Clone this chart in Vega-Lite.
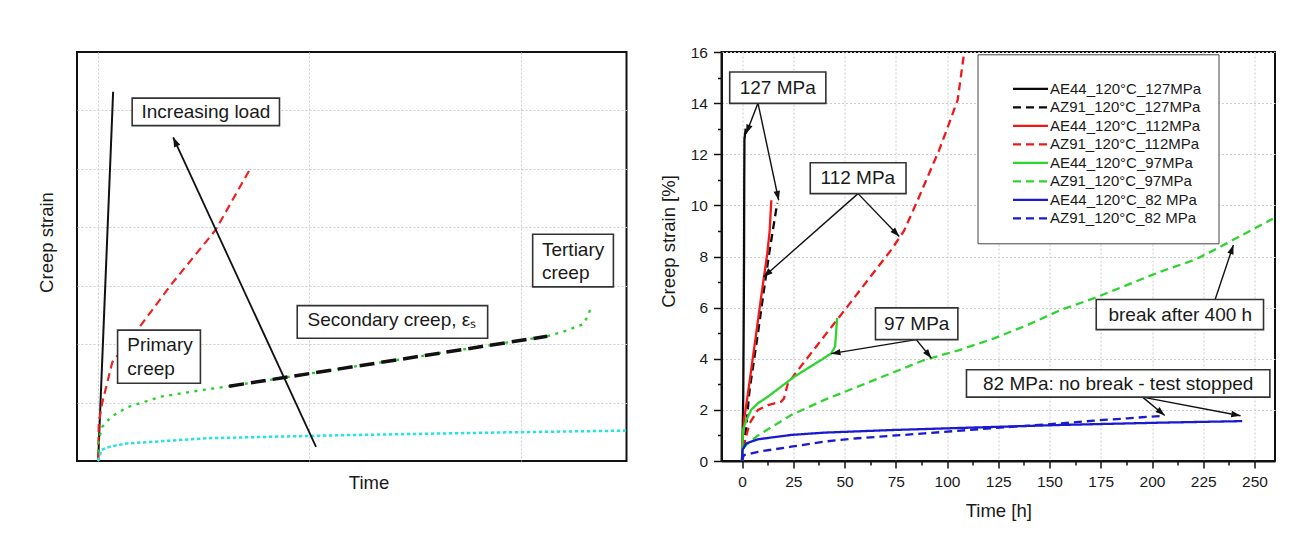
{
  "$schema": "https://vega.github.io/schema/vega-lite/v6.json",
  "background": "white",
  "padding": {"left": 36, "top": 44, "right": 5, "bottom": 5},
  "bounds": "flush",
  "spacing": 94.5,
  "resolve": {"scale": {"color": "independent", "strokeDash": "independent", "strokeWidth": "independent"}, "legend": {"color": "independent", "strokeDash": "independent", "strokeWidth": "independent"}},
  "config": {
    "font": "Liberation Sans",
    "view": {"stroke": "#111111", "strokeWidth": 2},
    "axis": {
      "labelFont": "Liberation Sans",
      "titleFont": "Liberation Sans",
      "titleFontWeight": "normal",
      "titleFontSize": 18.5,
      "titleColor": "#1a1a1a",
      "labelColor": "#1a1a1a",
      "labelFontSize": 15.5,
      "gridColor": "#cccccc",
      "gridDash": [2, 2],
      "gridWidth": 1,
      "tickColor": "#111111",
      "domainColor": "#111111"
    },
    "text": {"font": "Liberation Sans"}
  },
  "datasets": {
    "schematic": [
      {"curve": "highest load", "x": 0, "y": 0},
      {"curve": "highest load", "x": 0.71, "y": 6.32},
      {"curve": "high load", "x": 0, "y": 0.05},
      {"curve": "high load", "x": 0.03, "y": 0.65},
      {"curve": "high load", "x": 0.19, "y": 0.99},
      {"curve": "high load", "x": 0.67, "y": 1.69},
      {"curve": "high load", "x": 1.85, "y": 2.24},
      {"curve": "high load", "x": 3.5, "y": 3.04},
      {"curve": "high load", "x": 5.55, "y": 3.95},
      {"curve": "high load", "x": 7.21, "y": 5.01},
      {"curve": "medium load", "x": 0, "y": 0},
      {"curve": "medium load", "x": 0.02, "y": 0.35},
      {"curve": "medium load", "x": 0.19, "y": 0.58},
      {"curve": "medium load", "x": 0.59, "y": 0.75},
      {"curve": "medium load", "x": 1.38, "y": 0.92},
      {"curve": "medium load", "x": 2.95, "y": 1.1},
      {"curve": "medium load", "x": 4.84, "y": 1.21},
      {"curve": "medium load", "x": 6.2, "y": 1.28},
      {"curve": "medium load", "x": 21.25, "y": 2.135},
      {"curve": "medium load", "x": 22.05, "y": 2.22},
      {"curve": "medium load", "x": 22.95, "y": 2.34},
      {"curve": "medium load", "x": 23.2, "y": 2.5},
      {"curve": "medium load", "x": 23.34, "y": 2.67},
      {"curve": "low load", "x": 0, "y": 0},
      {"curve": "low load", "x": 0.16, "y": 0.19},
      {"curve": "low load", "x": 0.6, "y": 0.25},
      {"curve": "low load", "x": 1.35, "y": 0.3},
      {"curve": "low load", "x": 5.18, "y": 0.39},
      {"curve": "low load", "x": 11.3, "y": 0.44},
      {"curve": "low load", "x": 19.3, "y": 0.49},
      {"curve": "low load", "x": 25, "y": 0.52}
    ],
    "secondary": [
      {"x": 6.2, "y": 1.28},
      {"x": 21.25, "y": 2.135}
    ],
    "leftArrows": [
      {"x1": 10.31, "y1": 0.24, "x2": 3.55, "y2": 5.54}
    ],
    "leftBoxes": [
      {"x1": 1.61, "x2": 8.58, "y1": 5.74, "y2": 6.21},
      {"x1": 0.92, "x2": 4.84, "y1": 1.33, "y2": 2.24},
      {"x1": 9.42, "x2": 18.43, "y1": 2.1, "y2": 2.66},
      {"x1": 20.56, "x2": 24.38, "y1": 2.98, "y2": 3.88}
    ],
    "leftTexts": [
      {"label": "Increasing load", "x": 2.05, "y": 5.98},
      {"label": "Primary", "x": 1.38, "y": 1.98},
      {"label": "creep", "x": 1.38, "y": 1.57},
      {"label": "Secondary creep, εₛ", "x": 9.91, "y": 2.41},
      {"label": "Tertiary", "x": 21.0, "y": 3.61},
      {"label": "creep", "x": 21.0, "y": 3.22}
    ],
    "creep": [
      {"series": "AE44_120°C_127MPa", "t": 0, "s": 0},
      {"series": "AE44_120°C_127MPa", "t": 0.3, "s": 1.0},
      {"series": "AE44_120°C_127MPa", "t": 0.6, "s": 2.5},
      {"series": "AE44_120°C_127MPa", "t": 0.8, "s": 5},
      {"series": "AE44_120°C_127MPa", "t": 1.0, "s": 8},
      {"series": "AE44_120°C_127MPa", "t": 1.1, "s": 11},
      {"series": "AE44_120°C_127MPa", "t": 1.2, "s": 12.6},
      {"series": "AE44_120°C_127MPa", "t": 1.8, "s": 13.0},
      {"series": "AZ91_120°C_127MPa", "t": 0, "s": 0},
      {"series": "AZ91_120°C_127MPa", "t": 1, "s": 0.6},
      {"series": "AZ91_120°C_127MPa", "t": 2, "s": 1.3},
      {"series": "AZ91_120°C_127MPa", "t": 3.7, "s": 2.78},
      {"series": "AZ91_120°C_127MPa", "t": 7.8, "s": 5.0},
      {"series": "AZ91_120°C_127MPa", "t": 10.2, "s": 6.4},
      {"series": "AZ91_120°C_127MPa", "t": 13.5, "s": 8.25},
      {"series": "AZ91_120°C_127MPa", "t": 17.2, "s": 10.1},
      {"series": "AE44_120°C_112MPa", "t": 0, "s": 0},
      {"series": "AE44_120°C_112MPa", "t": 0.3, "s": 0.9},
      {"series": "AE44_120°C_112MPa", "t": 1, "s": 1.6},
      {"series": "AE44_120°C_112MPa", "t": 3, "s": 2.7},
      {"series": "AE44_120°C_112MPa", "t": 5.4, "s": 4.1},
      {"series": "AE44_120°C_112MPa", "t": 7.8, "s": 5.5},
      {"series": "AE44_120°C_112MPa", "t": 10, "s": 6.8},
      {"series": "AE44_120°C_112MPa", "t": 12.3, "s": 8.1},
      {"series": "AE44_120°C_112MPa", "t": 13.5, "s": 9.0},
      {"series": "AE44_120°C_112MPa", "t": 14.3, "s": 10.2},
      {"series": "AZ91_120°C_112MPa", "t": 0, "s": 0},
      {"series": "AZ91_120°C_112MPa", "t": 0.5, "s": 0.4},
      {"series": "AZ91_120°C_112MPa", "t": 1.3, "s": 0.75},
      {"series": "AZ91_120°C_112MPa", "t": 3.7, "s": 1.47},
      {"series": "AZ91_120°C_112MPa", "t": 7.8, "s": 2.0},
      {"series": "AZ91_120°C_112MPa", "t": 12.7, "s": 2.19},
      {"series": "AZ91_120°C_112MPa", "t": 19.1, "s": 2.32},
      {"series": "AZ91_120°C_112MPa", "t": 20.5, "s": 2.45},
      {"series": "AZ91_120°C_112MPa", "t": 22.4, "s": 3.04},
      {"series": "AZ91_120°C_112MPa", "t": 28.9, "s": 3.72},
      {"series": "AZ91_120°C_112MPa", "t": 40.2, "s": 4.89},
      {"series": "AZ91_120°C_112MPa", "t": 51.6, "s": 6.06},
      {"series": "AZ91_120°C_112MPa", "t": 61.4, "s": 7.08},
      {"series": "AZ91_120°C_112MPa", "t": 72.7, "s": 8.25},
      {"series": "AZ91_120°C_112MPa", "t": 79, "s": 9.0},
      {"series": "AZ91_120°C_112MPa", "t": 85.7, "s": 10.2},
      {"series": "AZ91_120°C_112MPa", "t": 91, "s": 11.2},
      {"series": "AZ91_120°C_112MPa", "t": 96.2, "s": 12.17},
      {"series": "AZ91_120°C_112MPa", "t": 101, "s": 13.2},
      {"series": "AZ91_120°C_112MPa", "t": 105.2, "s": 14.12},
      {"series": "AZ91_120°C_112MPa", "t": 108.4, "s": 16.0},
      {"series": "AE44_120°C_97MPa", "t": 0, "s": 0},
      {"series": "AE44_120°C_97MPa", "t": 0.3, "s": 0.8},
      {"series": "AE44_120°C_97MPa", "t": 0.5, "s": 1.2},
      {"series": "AE44_120°C_97MPa", "t": 2.1, "s": 1.6},
      {"series": "AE44_120°C_97MPa", "t": 4.5, "s": 2.0},
      {"series": "AE44_120°C_97MPa", "t": 7.8, "s": 2.26},
      {"series": "AE44_120°C_97MPa", "t": 12.7, "s": 2.52},
      {"series": "AE44_120°C_97MPa", "t": 19.1, "s": 2.91},
      {"series": "AE44_120°C_97MPa", "t": 25.6, "s": 3.3},
      {"series": "AE44_120°C_97MPa", "t": 32.1, "s": 3.63},
      {"series": "AE44_120°C_97MPa", "t": 38.6, "s": 3.95},
      {"series": "AE44_120°C_97MPa", "t": 43.5, "s": 4.21},
      {"series": "AE44_120°C_97MPa", "t": 45.4, "s": 4.47},
      {"series": "AE44_120°C_97MPa", "t": 45.9, "s": 5.0},
      {"series": "AE44_120°C_97MPa", "t": 46.4, "s": 5.6},
      {"series": "AZ91_120°C_97MPa", "t": 0, "s": 0},
      {"series": "AZ91_120°C_97MPa", "t": 0.3, "s": 0.45},
      {"series": "AZ91_120°C_97MPa", "t": 2, "s": 0.62},
      {"series": "AZ91_120°C_97MPa", "t": 7.8, "s": 1.0},
      {"series": "AZ91_120°C_97MPa", "t": 24, "s": 1.8},
      {"series": "AZ91_120°C_97MPa", "t": 40.2, "s": 2.39},
      {"series": "AZ91_120°C_97MPa", "t": 56.5, "s": 2.91},
      {"series": "AZ91_120°C_97MPa", "t": 72.7, "s": 3.43},
      {"series": "AZ91_120°C_97MPa", "t": 88.9, "s": 3.95},
      {"series": "AZ91_120°C_97MPa", "t": 106, "s": 4.34},
      {"series": "AZ91_120°C_97MPa", "t": 123, "s": 4.8},
      {"series": "AZ91_120°C_97MPa", "t": 139.3, "s": 5.32},
      {"series": "AZ91_120°C_97MPa", "t": 155.5, "s": 5.91},
      {"series": "AZ91_120°C_97MPa", "t": 171.8, "s": 6.37},
      {"series": "AZ91_120°C_97MPa", "t": 188, "s": 6.89},
      {"series": "AZ91_120°C_97MPa", "t": 204.2, "s": 7.41},
      {"series": "AZ91_120°C_97MPa", "t": 220.5, "s": 7.86},
      {"series": "AZ91_120°C_97MPa", "t": 230.2, "s": 8.25},
      {"series": "AZ91_120°C_97MPa", "t": 259, "s": 9.48},
      {"series": "AE44_120°C_82 MPa", "t": 0, "s": 0},
      {"series": "AE44_120°C_82 MPa", "t": 0.2, "s": 0.43},
      {"series": "AE44_120°C_82 MPa", "t": 2.1, "s": 0.69},
      {"series": "AE44_120°C_82 MPa", "t": 7.8, "s": 0.85},
      {"series": "AE44_120°C_82 MPa", "t": 24, "s": 1.02},
      {"series": "AE44_120°C_82 MPa", "t": 40.2, "s": 1.11},
      {"series": "AE44_120°C_82 MPa", "t": 72.7, "s": 1.21},
      {"series": "AE44_120°C_82 MPa", "t": 105.2, "s": 1.29},
      {"series": "AE44_120°C_82 MPa", "t": 155.5, "s": 1.41},
      {"series": "AE44_120°C_82 MPa", "t": 204.2, "s": 1.5},
      {"series": "AE44_120°C_82 MPa", "t": 244, "s": 1.56},
      {"series": "AZ91_120°C_82 MPa", "t": 0, "s": 0},
      {"series": "AZ91_120°C_82 MPa", "t": 0.5, "s": 0.15},
      {"series": "AZ91_120°C_82 MPa", "t": 1, "s": 0.23},
      {"series": "AZ91_120°C_82 MPa", "t": 7.8, "s": 0.36},
      {"series": "AZ91_120°C_82 MPa", "t": 24, "s": 0.56},
      {"series": "AZ91_120°C_82 MPa", "t": 40.2, "s": 0.76},
      {"series": "AZ91_120°C_82 MPa", "t": 56.5, "s": 0.89},
      {"series": "AZ91_120°C_82 MPa", "t": 88.9, "s": 1.08},
      {"series": "AZ91_120°C_82 MPa", "t": 121.4, "s": 1.28},
      {"series": "AZ91_120°C_82 MPa", "t": 155.5, "s": 1.47},
      {"series": "AZ91_120°C_82 MPa", "t": 171.8, "s": 1.58},
      {"series": "AZ91_120°C_82 MPa", "t": 188, "s": 1.67},
      {"series": "AZ91_120°C_82 MPa", "t": 205.8, "s": 1.77}
    ],
    "rightBoxes": [
      {"label": "127 MPa", "x1": -6.0, "x2": 40.9, "y1": 13.99, "y2": 15.22, "tx": 17.4, "ty": 14.6},
      {"label": "112 MPa", "x1": 33.3, "x2": 80.0, "y1": 10.46, "y2": 11.67, "tx": 56.5, "ty": 11.07},
      {"label": "97 MPa", "x1": 65.1, "x2": 105.3, "y1": 4.75, "y2": 5.99, "tx": 85.2, "ty": 5.37},
      {"label": "break after 400 h", "x1": 172.8, "x2": 254.4, "y1": 5.14, "y2": 6.32, "tx": 213.8, "ty": 5.73},
      {"label": "82 MPa: no break - test stopped", "x1": 109.5, "x2": 257.5, "y1": 2.5, "y2": 3.57, "tx": 183.5, "ty": 3.03}
    ],
    "rightArrows": [
      {"x1": 7.8, "y1": 14.0, "x2": 2.0, "y2": 12.8},
      {"x1": 7.8, "y1": 14.0, "x2": 17.9, "y2": 10.2},
      {"x1": 56.6, "y1": 10.46, "x2": 10.5, "y2": 7.2},
      {"x1": 56.6, "y1": 10.46, "x2": 76.7, "y2": 8.78},
      {"x1": 85.0, "y1": 4.75, "x2": 43.5, "y2": 4.2},
      {"x1": 85.0, "y1": 4.75, "x2": 92.4, "y2": 4.02},
      {"x1": 230.8, "y1": 6.32, "x2": 239.7, "y2": 8.45},
      {"x1": 195.4, "y1": 2.5, "x2": 206.2, "y2": 1.78},
      {"x1": 195.4, "y1": 2.5, "x2": 243.2, "y2": 1.77}
    ]
  },
  "hconcat": [
    {
      "width": 549.5,
      "height": 409,
      "layer": [
        {
          "data": {"name": "schematic"},
          "mark": {"type": "line", "clip": true},
          "encoding": {
            "x": {"field": "x", "type": "quantitative", "scale": {"domain": [-1, 25], "nice": false, "zero": false},
              "axis": {"title": "Time", "labels": false, "ticks": false, "domain": false, "grid": true, "values": [0, 10, 20], "titleX": 291.5, "titleY": 21, "titleBaseline": "middle", "titleAlign": "center"}},
            "y": {"field": "y", "type": "quantitative", "scale": {"domain": [0, 7], "nice": false, "zero": false},
              "axis": {"title": "Creep strain", "labels": false, "ticks": false, "domain": false, "grid": true, "values": [1, 2, 3, 4, 5, 6], "titleX": -31, "titleY": 190, "titleBaseline": "middle", "titleAlign": "center", "titleAngle": -90}},
            "color": {"field": "curve", "type": "nominal", "legend": null,
              "scale": {"domain": ["highest load", "high load", "medium load", "low load"], "range": ["#111111", "#ee2020", "#2bcc2b", "#2ee0e0"]}},
            "strokeDash": {"field": "curve", "type": "nominal", "legend": null,
              "scale": {"domain": ["highest load", "high load", "medium load", "low load"], "range": [[1, 0], [8, 5], [3, 5.5], [3.5, 2.5]]}},
            "strokeWidth": {"field": "curve", "type": "ordinal", "legend": null,
              "scale": {"domain": ["highest load", "high load", "medium load", "low load"], "range": [2, 2.5, 3, 2.5]}}
          }
        },
        {
          "data": {"name": "secondary"},
          "mark": {"type": "line", "color": "#111111", "strokeWidth": 3.5, "strokeDash": [15, 7]},
          "encoding": {
            "x": {"field": "x", "type": "quantitative", "scale": {"domain": [-1, 25], "nice": false, "zero": false}},
            "y": {"field": "y", "type": "quantitative", "scale": {"domain": [0, 7], "nice": false, "zero": false}}
          }
        },
        {
          "data": {"name": "leftArrows"},
          "mark": {"type": "rule", "color": "#111111", "strokeWidth": 1.8},
          "encoding": {
            "x": {"field": "x1", "type": "quantitative", "scale": {"domain": [-1, 25], "nice": false, "zero": false}},
            "y": {"field": "y1", "type": "quantitative", "scale": {"domain": [0, 7], "nice": false, "zero": false}},
            "x2": {"field": "x2"},
            "y2": {"field": "y2"}
          }
        },
        {
          "data": {"name": "leftArrows"},
          "transform": [{"calculate": "atan2((datum.x2 - datum.x1) * 21.13, (datum.y2 - datum.y1) * 58.43) * 180 / PI", "as": "angle"}],
          "mark": {"type": "point", "shape": "M0,0L0.42,1.2L-0.42,1.2Z", "filled": true, "color": "#111111", "opacity": 1, "size": 260},
          "encoding": {
            "x": {"field": "x2", "type": "quantitative", "scale": {"domain": [-1, 25], "nice": false, "zero": false}},
            "y": {"field": "y2", "type": "quantitative", "scale": {"domain": [0, 7], "nice": false, "zero": false}},
            "angle": {"field": "angle", "type": "quantitative", "scale": null}
          }
        },
        {
          "data": {"name": "leftBoxes"},
          "mark": {"type": "rect", "fill": "white", "stroke": "#333333", "strokeWidth": 1.6},
          "encoding": {
            "x": {"field": "x1", "type": "quantitative", "scale": {"domain": [-1, 25], "nice": false, "zero": false}},
            "x2": {"field": "x2"},
            "y": {"field": "y1", "type": "quantitative", "scale": {"domain": [0, 7], "nice": false, "zero": false}},
            "y2": {"field": "y2"}
          }
        },
        {
          "data": {"name": "leftTexts"},
          "mark": {"type": "text", "align": "left", "baseline": "middle", "fontSize": 19, "color": "#1a1a1a"},
          "encoding": {
            "x": {"field": "x", "type": "quantitative", "scale": {"domain": [-1, 25], "nice": false, "zero": false}},
            "y": {"field": "y", "type": "quantitative", "scale": {"domain": [0, 7], "nice": false, "zero": false}},
            "text": {"field": "label"}
          }
        }
      ]
    },
    {
      "width": 553.5,
      "height": 409,
      "resolve": {"axis": {"x": "independent", "y": "independent"}},
      "layer": [
        {
          "layer": [
            {
              "data": {"name": "creep"},
              "mark": {"type": "line", "clip": true, "strokeWidth": 2.3},
              "encoding": {
                "x": {"field": "t", "type": "quantitative", "scale": {"domain": [-10, 260], "nice": false, "zero": false},
                  "axis": {"title": "Time [h]", "values": [0, 25, 50, 75, 100, 125, 150, 175, 200, 225, 250], "grid": true, "tickSize": 7, "tickWidth": 1.5, "domainWidth": 2, "labelPadding": 6, "labelFlush": false, "labelOverlap": false, "titleY": 49, "titleBaseline": "middle"}},
                "y": {"field": "s", "type": "quantitative", "scale": {"domain": [0, 16], "nice": false, "zero": false},
                  "axis": {"title": "Creep strain [%]", "values": [0, 2, 4, 6, 8, 10, 12, 14, 16], "grid": true, "tickSize": 8, "tickWidth": 1.5, "domainWidth": 2, "labelPadding": 6, "labelOverlap": false, "titleX": -53.5, "titleY": 189, "titleBaseline": "middle", "titleAlign": "center", "titleAngle": -90}},
                "color": {"field": "series", "type": "nominal",
                  "scale": {"domain": ["AE44_120°C_127MPa", "AZ91_120°C_127MPa", "AE44_120°C_112MPa", "AZ91_120°C_112MPa", "AE44_120°C_97MPa", "AZ91_120°C_97MPa", "AE44_120°C_82 MPa", "AZ91_120°C_82 MPa"],
                    "range": ["#0a0a0a", "#0a0a0a", "#f01818", "#f01818", "#2fd42f", "#2fd42f", "#1a1acf", "#1a1acf"]},
                  "legend": {"title": " ", "titleFontSize": 7, "titlePadding": 3, "orient": "none", "legendX": 256, "legendY": 2.3, "direction": "vertical", "padding": 17, "strokeColor": "#444444", "fillColor": "white", "symbolType": "stroke", "symbolSize": 1225, "symbolStrokeWidth": 2.3, "clipHeight": 15, "rowPadding": 2.5, "labelFontSize": 15, "labelFont": "Liberation Sans", "labelColor": "#1a1a1a", "symbolOffset": 17, "labelOffset": 0.5, "labelLimit": 300}},
                "strokeDash": {"field": "series", "type": "nominal",
                  "scale": {"domain": ["AE44_120°C_127MPa", "AZ91_120°C_127MPa", "AE44_120°C_112MPa", "AZ91_120°C_112MPa", "AE44_120°C_97MPa", "AZ91_120°C_97MPa", "AE44_120°C_82 MPa", "AZ91_120°C_82 MPa"],
                    "range": [[1, 0], [8, 5], [1, 0], [8, 5], [1, 0], [8, 5], [1, 0], [8, 5]]},
                  "legend": {"title": " ", "titleFontSize": 7, "titlePadding": 3, "orient": "none", "legendX": 256, "legendY": 2.3, "direction": "vertical", "padding": 17, "strokeColor": "#444444", "fillColor": "white", "symbolType": "stroke", "symbolSize": 1225, "symbolStrokeWidth": 2.3, "clipHeight": 15, "rowPadding": 2.5, "labelFontSize": 15, "labelFont": "Liberation Sans", "labelColor": "#1a1a1a", "symbolOffset": 17, "labelOffset": 0.5, "labelLimit": 300}}
              }
            },
            {
              "data": {"name": "rightArrows"},
              "mark": {"type": "rule", "color": "#111111", "strokeWidth": 1.4},
              "encoding": {
                "x": {"field": "x1", "type": "quantitative", "scale": {"domain": [-10, 260], "nice": false, "zero": false}},
                "y": {"field": "y1", "type": "quantitative", "scale": {"domain": [0, 16], "nice": false, "zero": false}},
                "x2": {"field": "x2"},
                "y2": {"field": "y2"}
              }
            },
            {
              "data": {"name": "rightArrows"},
              "transform": [{"calculate": "atan2((datum.x2 - datum.x1) * 2.05, (datum.y2 - datum.y1) * 25.56) * 180 / PI", "as": "angle"}],
              "mark": {"type": "point", "shape": "M0,0L0.42,1.2L-0.42,1.2Z", "filled": true, "color": "#111111", "opacity": 1, "size": 240},
              "encoding": {
                "x": {"field": "x2", "type": "quantitative", "scale": {"domain": [-10, 260], "nice": false, "zero": false}},
                "y": {"field": "y2", "type": "quantitative", "scale": {"domain": [0, 16], "nice": false, "zero": false}},
                "angle": {"field": "angle", "type": "quantitative", "scale": null}
              }
            },
            {
              "data": {"name": "rightBoxes"},
              "mark": {"type": "rect", "fill": "white", "stroke": "#333333", "strokeWidth": 1.6},
              "encoding": {
                "x": {"field": "x1", "type": "quantitative", "scale": {"domain": [-10, 260], "nice": false, "zero": false}},
                "x2": {"field": "x2"},
                "y": {"field": "y1", "type": "quantitative", "scale": {"domain": [0, 16], "nice": false, "zero": false}},
                "y2": {"field": "y2"}
              }
            },
            {
              "data": {"name": "rightBoxes"},
              "mark": {"type": "text", "align": "center", "baseline": "middle", "fontSize": 19, "color": "#1a1a1a"},
              "encoding": {
                "x": {"field": "tx", "type": "quantitative", "scale": {"domain": [-10, 260], "nice": false, "zero": false}},
                "y": {"field": "ty", "type": "quantitative", "scale": {"domain": [0, 16], "nice": false, "zero": false}},
                "text": {"field": "label"}
              }
            }
          ]
        },
        {
          "data": {"name": "creep"},
          "mark": {"type": "point", "opacity": 0},
          "encoding": {
            "x": {"field": "t", "type": "quantitative", "scale": {"domain": [-10, 260], "nice": false, "zero": false},
              "axis": {"orient": "bottom", "values": [12.5, 37.5, 62.5, 87.5, 112.5, 137.5, 162.5, 187.5, 212.5, 237.5], "labels": false, "domain": false, "grid": false, "tickSize": 4, "tickWidth": 1.5, "title": null}},
            "y": {"field": "s", "type": "quantitative", "scale": {"domain": [0, 16], "nice": false, "zero": false},
              "axis": {"orient": "left", "values": [1, 3, 5, 7, 9, 11, 13, 15], "labels": false, "domain": false, "grid": false, "tickSize": 4, "tickWidth": 1.5, "title": null}}
          }
        }
      ]
    }
  ]
}
